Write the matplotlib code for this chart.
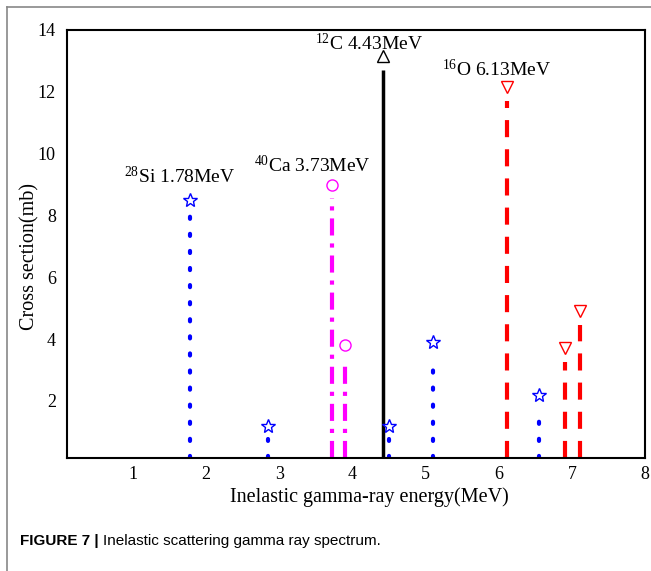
import matplotlib
matplotlib.use("Agg")
import matplotlib.pyplot as plt

plt.rcParams['mathtext.fontset'] = 'custom'
plt.rcParams['mathtext.rm'] = 'Liberation Serif'
plt.rcParams['mathtext.it'] = 'Liberation Serif:italic'
plt.rcParams['mathtext.bf'] = 'Liberation Serif:bold'

# Data
si_x = [1.78, 2.85, 4.50, 5.10, 6.55]
si_y = [8.5, 1.2, 1.2, 3.9, 2.2]
ca_x = [3.72, 3.90]
ca_y = [9.0, 3.8]
c_x = [4.42]
c_y = [13.15]
o_x = [6.12, 6.90, 7.11]
o_y = [12.15, 3.72, 4.92]

xticks = [1, 2, 3, 4, 5, 6, 7, 8]
yticks = [2, 4, 6, 8, 10, 12, 14]

labels = [r'$^{28}$Si 1.78MeV', r'$^{40}$Ca 3.73MeV', r'$^{12}$C 4.43MeV', r'$^{16}$O 6.13MeV']
label_x = [1.64, 3.45, 4.23, 5.97]
label_y = [9.03, 9.39, 13.35, 12.5]

fig = plt.figure(figsize=(6.51, 5.71), dpi=100)
ax = fig.add_axes([67/651, 1-458/571, (645-67)/651, (458-30)/571])
ymin = 0.15
gap = 0.45

serif = ['Liberation Serif', 'DejaVu Serif']

def stems(xs, ys, color, lw, marker, ms, dash=None, cap='butt'):
    for x, y in zip(xs, ys):
        line, = ax.plot([x, x], [ymin, y - gap], color=color, lw=lw,
                        solid_capstyle='butt', dash_capstyle=cap)
        if dash is not None:
            line.set_dashes(dash)
        ax.plot([x], [y], marker=marker, ms=ms, mfc='white', mec=color,
                mew=1.0, ls='none', zorder=5)

stems(si_x, si_y, 'blue', 3, '*', 10, dash=(0.5, 3.6), cap='round')
stems(ca_x, ca_y, 'magenta', 3, 'o', 8, dash=(4.1, 1.9, 1.0, 1.9))
stems(c_x, c_y, 'black', 2.5, '^', 9)
stems(o_x, o_y, 'red', 3, 'v', 9, dash=(4.1, 2.9))

ax.set_xlim(0.1, 8.0)
ax.set_ylim(ymin, 14.0)
ax.set_xticks(xticks)
ax.set_yticks(yticks)
ax.tick_params(axis='x', length=0, labelsize=13, pad=6)
ax.tick_params(axis='y', length=0, labelsize=13, pad=8)
for lab in ax.get_xticklabels() + ax.get_yticklabels():
    lab.set_fontfamily(serif)
for s in ax.spines.values():
    s.set_linewidth(1.5)

ax.set_xlabel('Inelastic gamma-ray energy(MeV)', fontsize=14.5, family=serif)
ax.xaxis.set_label_coords((369-67)/578, -(497-458)/428)
ax.xaxis.label.set_va('center')
ax.set_ylabel('Cross section(mb)', fontsize=14.5, family=serif)
ax.yaxis.set_label_coords((30-67)/578, (458-256)/428)
ax.yaxis.label.set_va('center')

for t, x, y in zip(labels, label_x, label_y):
    ax.text(x, y, t, fontsize=14, family=serif, ha='center', va='baseline')

# figure frame (left and top gray border)
fig.add_artist(plt.Line2D([7/651, 7/651], [0, 1-7/571], transform=fig.transFigure, color='#888888', lw=1.2))
fig.add_artist(plt.Line2D([7/651, 1], [1-7/571, 1-7/571], transform=fig.transFigure, color='#888888', lw=1.2))

fig.text(20/651, 1-541/571, 'FIGURE 7 |', fontsize=11, fontweight='bold', family='Liberation Sans', va='center', ha='left')
fig.text(103/651, 1-541/571, 'Inelastic scattering gamma ray spectrum.', fontsize=11, family='Liberation Sans', va='center', ha='left')

fig.savefig('out.png', dpi=100)
